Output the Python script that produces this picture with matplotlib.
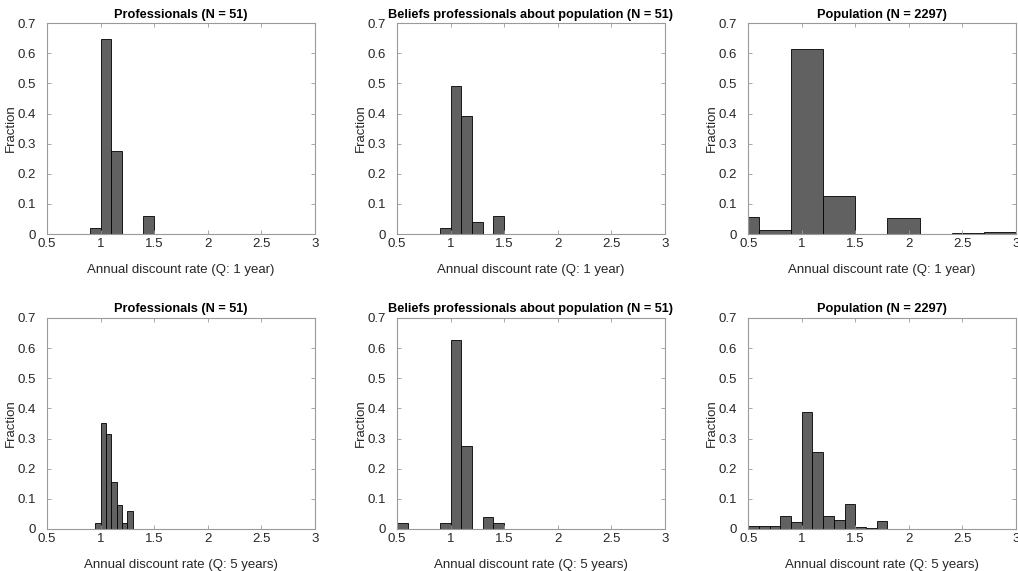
import matplotlib
matplotlib.use("Agg")
from matplotlib import pyplot as plt
import numpy as np

plt.rcParams['font.family'] = ['Liberation Sans', 'DejaVu Sans']

############## Data ##############

titles = ['Professionals (N = 51)',
          'Beliefs professionals about population (N = 51)',
          'Population (N = 2297)']
xlabels = ['Annual discount rate (Q: 1 year)',
           'Annual discount rate (Q: 5 years)']

# Q: 1 year
prof_1y_edges = [0.9, 1.0, 1.1, 1.2, 1.3, 1.4, 1.5]
prof_1y_frac = [0.0196, 0.647, 0.275, 0, 0, 0.0588]

bel_1y_edges = [0.9, 1.0, 1.1, 1.2, 1.3, 1.4, 1.5]
bel_1y_frac = [0.0196, 0.490, 0.392, 0.0392, 0, 0.0588]

pop_1y_edges = [0.3, 0.6, 0.9, 1.2, 1.5, 1.8, 2.1, 2.4, 2.7, 3.0]
pop_1y_frac = [0.056, 0.013, 0.615, 0.127, 0, 0.053, 0, 0.004, 0.008]

# Q: 5 years
prof_5y_edges = [0.95, 1.0, 1.05, 1.1, 1.15, 1.2, 1.25, 1.3]
prof_5y_frac = [0.0196, 0.353, 0.314, 0.157, 0.0784, 0.0196, 0.0588]

bel_5y_edges = [0.5, 0.6, 0.7, 0.8, 0.9, 1.0, 1.1, 1.2, 1.3, 1.4, 1.5]
bel_5y_frac = [0.0196, 0, 0, 0, 0.0196, 0.627, 0.275, 0, 0.0392, 0.0196]

pop_5y_edges = [0.5, 0.6, 0.7, 0.8, 0.9, 1.0, 1.1, 1.2, 1.3, 1.4, 1.5, 1.6, 1.7, 1.8]
pop_5y_frac = [0.011, 0.011, 0.011, 0.044, 0.023, 0.389, 0.254, 0.044, 0.030,
               0.083, 0.007, 0.004, 0.028]

panels = [
    [(prof_1y_edges, prof_1y_frac), (bel_1y_edges, bel_1y_frac), (pop_1y_edges, pop_1y_frac)],
    [(prof_5y_edges, prof_5y_frac), (bel_5y_edges, bel_5y_frac), (pop_5y_edges, pop_5y_frac)],
]

############## Plot ##############

fig = plt.figure(figsize=(10.18, 5.71), dpi=100)

lefts = [0.0462, 0.390, 0.735]
bottoms = [0.590, 0.0736]
w, h = 0.263, 0.3695

axis_grey = '#9a9a9a'
text_grey = '#262626'
fs = 9.5

for r in range(2):
    for c in range(3):
        ax = fig.add_axes([lefts[c], bottoms[r], w, h])
        edges, frac = panels[r][c]
        edges = np.array(edges)
        ax.bar(edges[:-1], frac, width=np.diff(edges), align='edge',
               color='#616161', edgecolor='black', linewidth=0.6)
        ax.set_xlim(0.5, 3)
        ax.set_ylim(0, 0.7)
        ax.set_xticks([0.5, 1, 1.5, 2, 2.5, 3])
        ax.set_xticklabels(['0.5', '1', '1.5', '2', '2.5', '3'])
        ax.set_yticks(np.arange(0, 0.71, 0.1))
        ax.set_yticklabels(['0', '0.1', '0.2', '0.3', '0.4', '0.5', '0.6', '0.7'])
        ax.tick_params(direction='in', top=True, right=True, length=3,
                       width=0.6, color=axis_grey, labelsize=fs,
                       labelcolor=text_grey)
        ax.tick_params(axis='x', pad=3)
        ax.tick_params(axis='y', pad=8)
        for s in ax.spines.values():
            s.set_color(axis_grey)
            s.set_linewidth(0.8)
        ax.set_title(titles[c], fontsize=9.2, fontweight='bold', pad=4,
                     color='black')
        ax.set_xlabel(xlabels[r], fontsize=fs, color=text_grey, labelpad=10)
        # MATLAB puts the y label right against the tick labels
        ax.yaxis.set_label_coords(-0.112, 0.5)
        ax.set_ylabel('Fraction', fontsize=fs, color=text_grey)

plt.savefig('out.png', dpi=100)
